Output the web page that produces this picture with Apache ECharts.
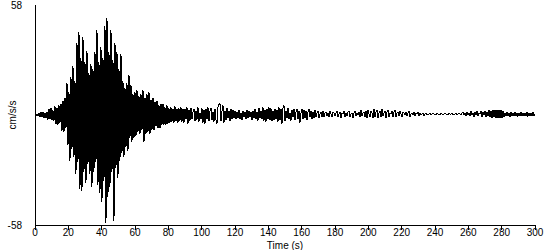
<!DOCTYPE html>
<html><head><meta charset="utf-8">
<script src="https://cdn.jsdelivr.net/npm/echarts@6/dist/echarts.min.js"></script>
<style>html,body{margin:0;padding:0;background:#fff}#c{width:550px;height:250px}#c svg path{shape-rendering:crispEdges}</style>
</head><body><div id="c"></div>
<script>
// sample interval of the digitised record (seconds)
const sampleInterval = 0.6;

// acceleration (cm/s/s)
const preEvent = [0.5, -0.3, 0.6, -0.4, 0.8, -1.0, 1.3, -0.8, 1.5, -1.6, 1.2, -1.4, 1.8, -2.5, 3.2, -2.0, 3.6, -2.8, 2.4, -3.0, 4.5, -4.8, 3.8, -5.2, 5.0, -4.0, 6.0, -8.5, 7.5, -9.0, 9.2, -7.0];

const strongMotion = [17, -16, 12, -24, 20, -18, 26, -22, 18, -31, 38, -25, 44, -39, 30, -40, 41, -30,
  28, -36, 34, -26, 22, -31, 27, -38, 24, -30, 33, -25, 45, -37, 28, -41, 36, -46, 30, -35,
  47, -57, 51, -43, 33, -38, 45, -30, 29, -56, 38, -28, 33, -33, 24, -24, 32, -20, 18, -22,
  14, -17, 17, -19, 21, -12, 16, -14, 11, -12];

const coda = [12, -11, 13, -9, 10, -10, 11, -8, 13, -14, 9, -10, 11, -9, 12, -10, 8, -8, 9, -8,
  7, -6, 7.5, -7, 5, -7, 6, -5, 6, -5, 4, -5, 5, -4.5, 3.5, -4, 4, -3.5, 3, -4,
  4.5, -3, 3, -4, 3.5, -3, 4, -3.5, 3, -4,
  3, -2, 4, -4.5, 2.5, -3, 3.5, -2, 1.5, 3,
  -3, 2, -2.5, 4, -3.5, 1, -2, 3.5, -4, 2.5,
  -4.5, 3, -2, 4, -3, 2, 3.5, -2.5, 1.5, -3.5,
  3, -2.5, -4.5, 4, 5.5, 6, -3, 2, 5, -4,
  2, -2.5, 3.5, -1.5, 2, -3, 3, -2, 2.5, -1.5,
  2, -2, 1.5, -1.5, 2.5, -2, 1, -2.5, 2, -1,
  1.5, -2, 2.5, -1.5, 2, -1, 1.5, -2.5, 2, -1.5,
  3, -2, 1.5, -3, 3.5, -1.5, 2, -2, 4, -3,
  2.5, -3.5, 3, -2, 4, -2.5, 3.5, -3, 2, -2.5,
  3, -2, 2.5, -3.5, 4, -2.5, 3, -4.5, 3.5, 5];

const tail = [-3, 2, -1.5, 3.5, -2, 1, -3, 2.5, -1, 3,
  -2.5, 1.5, 3, -2, 2, -4, 1, 3, -2, 2.5,
  -1.5, 2, -2.5, 1.5, 3, -1, 2, -2, 1.5, -1.5,
  2.5, -1, 1, 2, -1.5, 0.5, 1.5, -1, 2, -1,
  1, 1.5, -0.5, 1, -1, 2, 0.5, -1, 1.5, 1,
  -0.5, 1, 2, -1, 0.5, 1.5, -1.5, 1, 0.5, 2,
  -1, 1, -0.5, 1.5, 2, -1, 0.5, 1, -1.5, 1,
  2, -0.5, 1, 0, 1.5, -1, 2.5, -0.5, 1, 1.5,
  -1, 2, -1.5, 2.5, 0.5, -1, 2, 1, -1.5, 3,
  -1, 1.5, 2.5, -1.5, 1, 2, -1, 3, -0.5, 1,
  2, -1.5, 1.5, 2.5, -1, 1, 0.5, 2, -1, 1.5,
  2.5, -1, 1, 1.5, -0.5, 2, 0.5, -1, 1.5, 1,
  0, 1.5, -0.5, 1, 2, -1, 0.5, 1, 0, 1.5,
  -0.5, 1, 0.5, 1.5, -0.5, 1, 0, 0.5, 1, -0.5,
  0.5, 1, 0, 0.5, 0.5, 1, 0, 0.5, 1, 0.5,
  0.5, 0, 1, 0.5, 0.5, 0, 1, 0.5, 0, 0.5,
  1, 0.5, 0.5, 0, 1, 0.5, 0.5, 1, 0, 0.5,
  0.5, 1, 0, 0.5, 1, 0.5, 0, 1, 1.5, 0,
  1, -0.5, 1.5, 0, 1, -0.5, 2, 0, 1, -1,
  1.5, 0, 2, -0.5, 1, 0.5, 2, -1, 1.5, 0,
  2, -1, 1.5, -0.5, 2.5, -1, 2, -1.5, 2.5, -1,
  2.5, -1.5, 2.5, -1.5, 2.5, -1.5, 2.5, -1.5, 2, -1,
  1.2, -0.6, 1.5, -0.6, 1.2, -0.8, 1.5, -0.6, 1.2, -0.6,
  1.5, -0.6, 1.2, -0.8, 1.2, -0.6, 1.5, -0.6, 1.2, -0.6,
  1.2, -0.6, 1.5, -0.8, 1.2, -0.6, 1.2, -0.6, 1.5, -0.6,
  0.5];

const yTickLabels = [-58, 58];
const xTickLabels = [0, 20, 40, 60, 80, 100, 120, 140, 160, 180, 200, 220, 240, 260, 280, 300];

const accel = preEvent.concat(strongMotion, coda, tail);
const seriesData = accel.map((v, i) => [Math.round(i * sampleInterval * 10) / 10, v]);

const font = "'Liberation Sans', Arial, sans-serif";
const chart = echarts.init(document.getElementById('c'), null, {renderer: 'svg'});
chart.setOption({
  animation: false,
  backgroundColor: '#fff',
  grid: {left: 35, right: 15, top: 5, bottom: 25, containLabel: false, outerBoundsMode: 'none'},
  xAxis: {
    type: 'value', min: xTickLabels[0], max: xTickLabels[xTickLabels.length - 1], interval: 20,
    name: 'Time (s)', nameLocation: 'middle', nameGap: 15, nameMoveOverlap: false,
    nameTextStyle: {color: '#000', fontFamily: font, fontSize: 10, verticalAlign: 'top'},
    axisLine: {onZero: false, lineStyle: {color: '#000', width: 1}},
    axisTick: {show: true, length: 5, lineStyle: {color: '#000'}},
    axisLabel: {color: '#000', fontFamily: font, fontSize: 10, margin: 2},
    splitLine: {show: false}
  },
  yAxis: {
    type: 'value', min: -58, max: 58, interval: 58,
    name: 'cm/s/s', nameLocation: 'middle', nameGap: 23, nameRotate: 90, nameMoveOverlap: false,
    nameTextStyle: {color: '#000', fontFamily: font, fontSize: 10, align: 'center', verticalAlign: 'middle'},
    axisLine: {show: true, lineStyle: {color: '#000', width: 1}},
    axisTick: {show: false},
    axisLabel: {color: '#000', fontFamily: font, fontSize: 10, margin: 13,
      formatter: v => yTickLabels.includes(v) ? String(v) : ''},
    splitLine: {show: false}
  },
  series: [{
    type: 'line', data: seriesData, showSymbol: false, sampling: null,
    lineStyle: {color: '#000', width: 1}, silent: true
  }]
});
</script>
</body></html>
